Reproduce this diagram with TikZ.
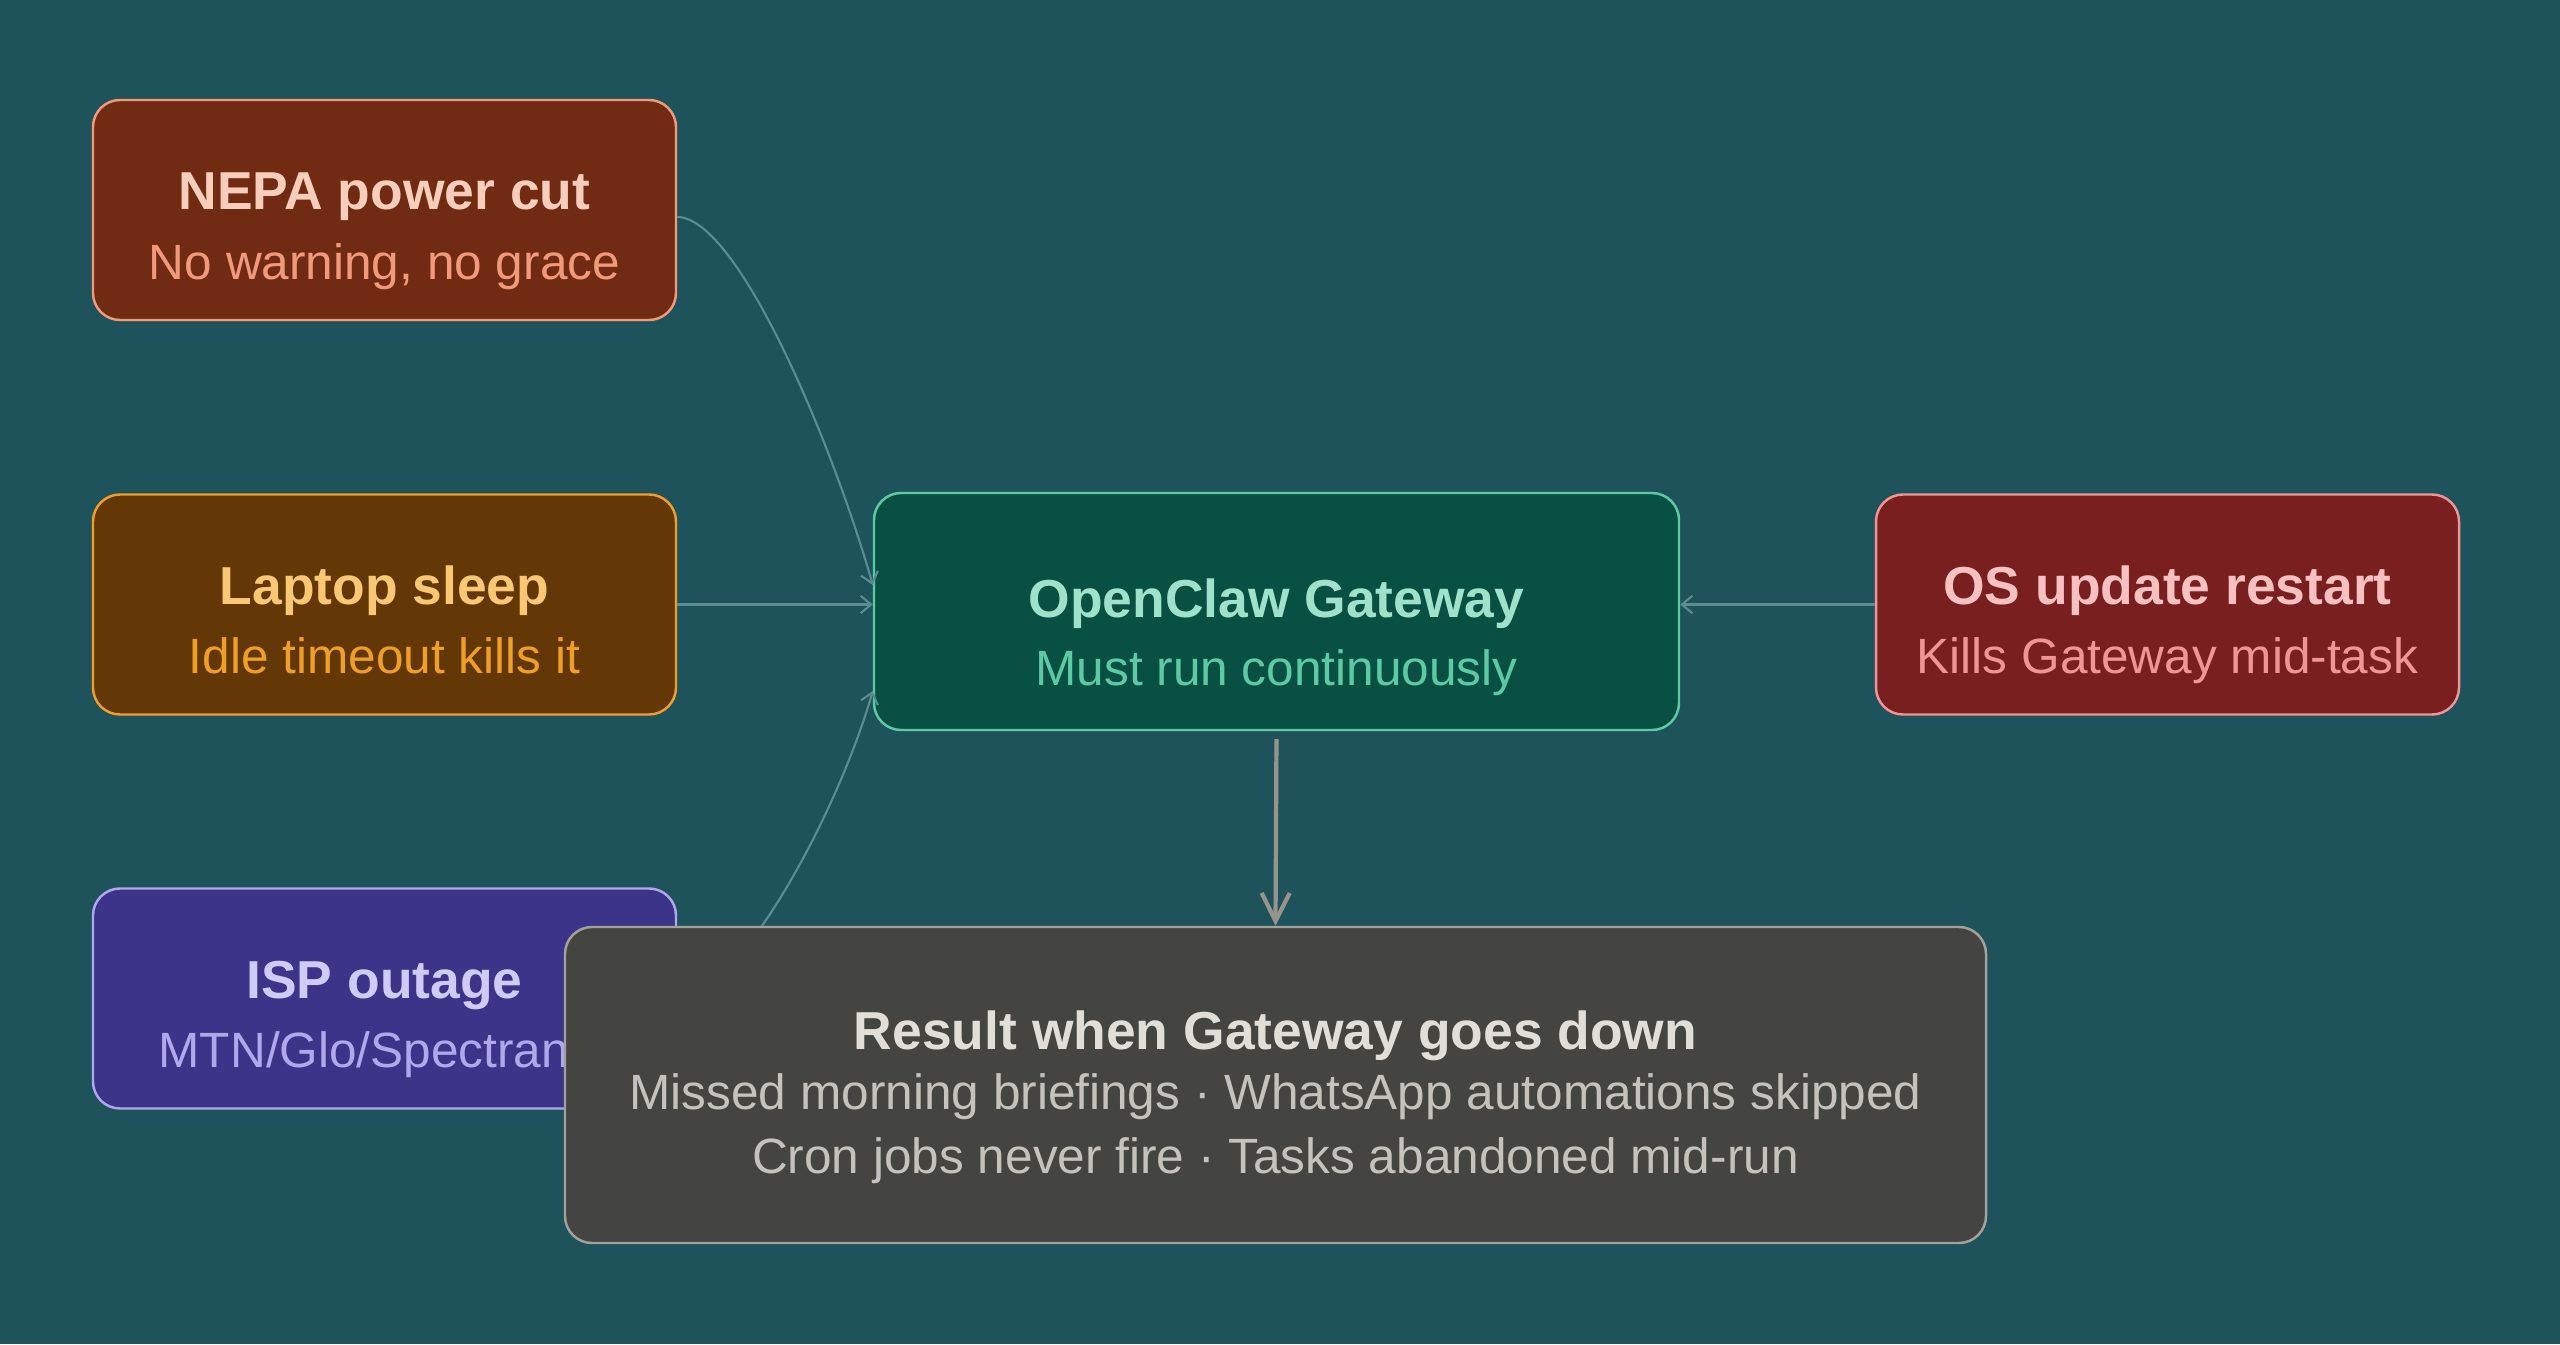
\documentclass[tikz,border=0pt]{standalone}
\usepackage{fontspec}
\setmainfont{Liberation Sans}
\usetikzlibrary{arrows.meta}

\definecolor{bg}{HTML}{1F535C}
\definecolor{linkcol}{HTML}{5A8C91}
\definecolor{downcol}{HTML}{96948D}
\definecolor{nepaF}{HTML}{712B13}
\definecolor{nepaT}{HTML}{F7CDBB}
\definecolor{nepaS}{HTML}{F0997B}
\definecolor{lapF}{HTML}{633806}
\definecolor{lapT}{HTML}{FAC775}
\definecolor{lapS}{HTML}{EF9F27}
\definecolor{ispF}{HTML}{3C3489}
\definecolor{ispT}{HTML}{CECBF6}
\definecolor{ispS}{HTML}{AFA9EC}
\definecolor{gwF}{HTML}{085041}
\definecolor{gwT}{HTML}{9FE1CB}
\definecolor{gwS}{HTML}{5DCAA5}
\definecolor{osF}{HTML}{791F1F}
\definecolor{osT}{HTML}{F7C1C1}
\definecolor{osS}{HTML}{F09595}
\definecolor{resF}{HTML}{444441}
\definecolor{resL}{HTML}{A3A19A}
\definecolor{resT}{HTML}{E0DED6}
\definecolor{resS}{HTML}{C4C2BA}

\begin{document}
\begin{tikzpicture}[x=1cm,y=1cm,
	box/.style={rounded corners=0.27cm,line width=0.7pt,minimum width=5.83cm,minimum height=2.2cm,inner sep=0pt},
	hd/.style={anchor=base,inner sep=0pt,font=\fontsize{15.2}{18}\selectfont\bfseries},
	sub/.style={anchor=base,inner sep=0pt,font=\fontsize{14.1}{17}\selectfont},
	link/.style={linkcol,line width=0.6pt,-{Straight Barb[length=3pt,width=5pt]}}]
		
		\fill[bg] (0,0) rectangle (25.6,13.44);
		\useasboundingbox (0,0) rectangle (25.6,13.44);
		
		% what can take it down
		\node[box,fill=nepaF,draw=nepaS] (nepa) at (3.845,11.34) {};
		\node[hd,text=nepaT] (nepa-hd) at (nepa.center) {NEPA power cut};
		\node[sub,text=nepaS] (nepa-sub) at ([yshift=-0.69cm]nepa.center) {No warning, no grace};
		
		\node[box,fill=lapF,draw=lapS] (lap) at (3.845,7.395) {};
		\node[hd,text=lapT] (lap-hd) at (lap.center) {Laptop sleep};
		\node[sub,text=lapS] (lap-sub) at ([yshift=-0.69cm]lap.center) {Idle timeout kills it};
		
		\node[box,fill=ispF,draw=ispS] (isp) at (3.845,3.455) {};
		\node[hd,text=ispT] (isp-hd) at (isp.center) {ISP outage};
		\node[sub,text=ispS] (isp-sub) at ([yshift=-0.69cm]isp.center) {MTN/Glo/Spectran\phantom{et}};
		
		\node[box,fill=osF,draw=osS] (os) at (21.675,7.395) {};
		\node[hd,text=osT] (os-hd) at (os.center) {OS update restart};
		\node[sub,text=osS] (os-sub) at ([yshift=-0.69cm]os.center) {Kills Gateway mid-task};
		
		% the gateway
		\node[box,fill=gwF,draw=gwS,minimum width=8.05cm,minimum height=2.37cm] (gw) at (12.765,7.325) {};
		\node[hd,text=gwT] (gw-hd) at ([yshift=-0.055cm]gw.center) {OpenClaw Gateway};
		\node[sub,text=gwS] (gw-sub) at ([yshift=-0.735cm]gw.center) {Must run continuously};
		
		\draw[link] ([yshift=-0.07cm]nepa.east) .. controls +(0.6,0) and +(-0.41,1.44) .. ([yshift=0.265cm]gw.west);
		\draw[link] (lap.east) -- (lap.east -| gw.west);
		\draw[link] (isp.east) .. controls +(0.6,0) and +(-0.36,-1.25) .. ([yshift=-0.795cm]gw.west);
		\draw[link] (os.west) -- (os.west -| gw.east);
		
		% result, drawn over the isp box
		\node[box,fill=resF,draw=resL,minimum width=14.21cm,minimum height=3.16cm] (res) at (12.755,2.59) {};
		\node[hd,text=resT] (res-hd) at ([yshift=0.36cm]res.center) {Result when Gateway goes down};
		\node[sub,text=resS] (res-l1) at ([yshift=-0.24cm]res.center) {Missed morning briefings · WhatsApp automations skipped};
		\node[sub,text=resS] (res-l2) at ([yshift=-0.88cm]res.center) {Cron jobs never fire · Tasks abandoned mid-run};
		
		\draw[downcol,line width=1.2pt,-{Straight Barb[length=8pt,width=8pt]},shorten <=0.08cm] (gw.south) -- (res.north);
		
	\end{tikzpicture}
\end{document}
